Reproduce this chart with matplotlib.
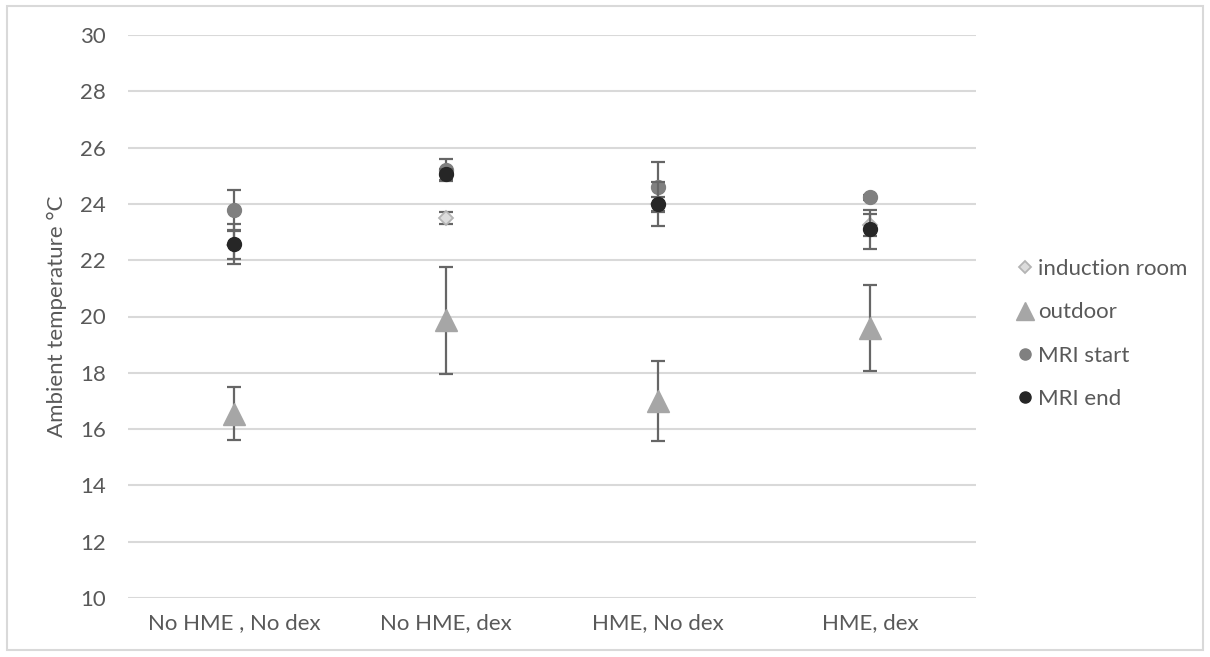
import matplotlib
matplotlib.use("Agg")
import matplotlib.pyplot as plt
import numpy as np

categories = ["No HME , No dex", "No HME, dex", "HME, No dex", "HME, dex"]
series_names = ["induction room", "outdoor", "MRI start", "MRI end"]
induction_room = [22.55, 23.5, 24.0, 23.25]
induction_err = [0.5, 0.2, 0.26, 0.4]
outdoor = [16.55, 19.87, 17.0, 19.6]
outdoor_err = [0.93, 1.9, 1.42, 1.52]
mri_start = [23.78, 25.2, 24.61, 24.23]
mri_start_err = [0.72, 0.4, 0.88, 0.1]
mri_end = [22.58, 25.05, 24.0, 23.1]
mri_end_err = [0.71, 0.2, 0.78, 0.7]
yticks = [10, 12, 14, 16, 18, 20, 22, 24, 26, 28, 30]

plt.rcParams['font.family'] = ['Lato', 'DejaVu Sans']
txt = '#595959'
fig = plt.figure(figsize=(12.1, 6.57), dpi=100)
fig.patches.append(plt.Rectangle((7/1210, 1 - 650/657), 1196/1210, 644/657,
                                 transform=fig.transFigure, fill=False,
                                 edgecolor='#d9d9d9', linewidth=1.5))
ax = fig.add_axes([128/1210, 1 - 598/657, (976 - 128)/1210, (598 - 35)/657])
x = np.arange(len(categories))

styles = [
    (induction_room, induction_err, dict(marker='D', ms=7.6, mfc='#dcdcdc', mec='#b4b4b4', mew=1.3)),
    (outdoor, outdoor_err, dict(marker='^', ms=16, mfc='#a6a6a6', mec='#a6a6a6', mew=1)),
    (mri_start, mri_start_err, dict(marker='o', ms=10, mfc='#808080', mec='#808080', mew=1)),
    (mri_end, mri_end_err, dict(marker='o', ms=10, mfc='#262626', mec='#262626', mew=1)),
]
handles = []
for i, (vals, errs, st) in enumerate(styles):
    ax.errorbar(x, vals, yerr=errs, fmt='none', ecolor='#666666', elinewidth=1.6,
                capsize=4.7, capthick=1.6, zorder=3 + i * 2)
    h, = ax.plot(x, vals, linestyle='none', zorder=4 + i * 2, **st)
    handles.append(h)

ax.set_xlim(-0.5, len(categories) - 0.5)
ax.set_ylim(10, 30)
ax.set_yticks(yticks)
ax.set_yticklabels([str(t) for t in yticks])
ax.set_xticks(x)
ax.set_xticklabels(categories)
ax.grid(axis='y', color='#d9d9d9', linewidth=1.5, zorder=0)
ax.set_axisbelow(True)
for s in ax.spines.values():
    s.set_visible(False)
ax.tick_params(axis='both', length=0, colors=txt, labelsize=16)
ax.tick_params(axis='y', pad=16)
ax.tick_params(axis='x', pad=11)
ax.set_ylabel("Ambient temperature °C", color=txt, fontsize=16, labelpad=9)

leg = fig.legend(handles, series_names, loc='upper left',
                 bbox_to_anchor=(997/1210, 1 - 239/657), frameon=False,
                 fontsize=16, labelcolor=txt, handlelength=0.7, handletextpad=0.25,
                 labelspacing=1.05, markerscale=0.8)

fig.savefig("out.png", dpi=100)
